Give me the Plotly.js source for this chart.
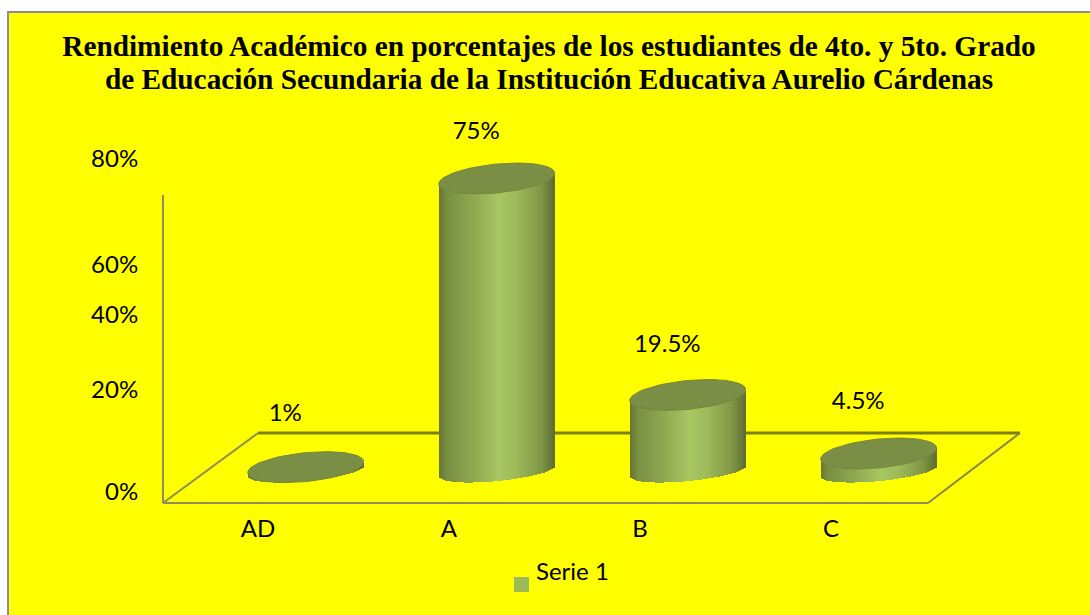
<!DOCTYPE html>
<html>
<head>
<meta charset="utf-8">
<script src="https://cdn.plot.ly/plotly-3.0.1.min.js"></script>
<style>
html,body{margin:0;padding:0;background:#fff;overflow:hidden}
#frame{position:absolute;left:7px;top:11px;border-left:2px solid #8e8e8e;border-top:2px solid #8e8e8e;width:1081px;height:602px}
#chart{width:1081px;height:602px}
</style>
</head>
<body>
<div id="frame"><div id="chart"></div></div>
<script>
// ---- data ----
const categories = ['AD', 'A', 'B', 'C'];
const seriesName = 'Serie 1';
const values = [1, 75, 19.5, 4.5];
const valueLabels = ['1%', '75%', '19.5%', '4.5%'];
const yTickLabels = ['0%', '20%', '40%', '60%', '80%'];
const yTickPositions = [-5.4, 21.0, 40.2, 52.8, 80.0];

// ---- geometry of the pseudo-3D cylinders, in axis units ----
const categoryPos = categories.map((_, i) => i);
const barShift = 0.25, barHalf = 0.3035;
const capHalfHeight = 3.7, baseHalfHeight = 2.6, capTilt = 1.4;
const labelShift = -0.107, labelLift = [13.3, 11.6, 12.5, 12.9];
const STRIPS = 58;

const shade = t => {           // t in [-1,1]; lit a little right of centre
  const stops = [[-1,[100,118,52]],[-0.85,[122,144,66]],[-0.4,[142,168,80]],[0.05,[168,198,98]],[0.35,[158,186,90]],[0.78,[128,150,70]],[1,[94,110,50]]];
  for (let i = 1; i < stops.length; i++) {
    if (t <= stops[i][0]) {
      const f = (t - stops[i-1][0]) / (stops[i][0] - stops[i-1][0]);
      const c = stops[i][1].map((v, k) => Math.round(stops[i-1][1][k] + (v - stops[i-1][1][k]) * f));
      return 'rgb(' + c.join(',') + ')';
    }
  }
  return 'rgb(94,110,50)';
};

const bx = [], bh = [], bb = [], bw = [], bc = [];
values.forEach((v, i) => {
  for (let s = 0; s < STRIPS; s++) {
    const t = -1 + (2 * s + 1) / STRIPS;
    const base = capTilt * t - baseHalfHeight * Math.sqrt(1 - t * t);
    const top = v + capTilt * t;
    bx.push(categoryPos[i] + barShift + t * barHalf);
    bb.push(base);
    bh.push(top - base);
    bw.push(2.4 * barHalf / STRIPS);
    bc.push(shade(t));
  }
});

const capX = [], capY = [];
values.forEach((v, i) => {
  for (let a = 0; a <= 72; a++) {
    const th = a / 72 * 2 * Math.PI;
    capX.push(categoryPos[i] + barShift + barHalf * Math.cos(th));
    capY.push(v + capTilt * Math.cos(th) + capHalfHeight * Math.sin(th));
  }
  capX.push(null); capY.push(null);
});

const font = 'Lato, "Open Sans", sans-serif';
const traces = [
  {type:'bar', x:bx, y:bh, base:bb, width:bw, marker:{color:bc, line:{width:0}}, showlegend:false, hoverinfo:'skip', cliponaxis:false},
  {type:'scatter', mode:'lines', x:capX, y:capY, fill:'toself', fillcolor:'#7a8f45', line:{color:'#77863a', width:1}, showlegend:false, hoverinfo:'skip', cliponaxis:false},
  {type:'scatter', mode:'text', x:categoryPos.map(c => c + barShift + labelShift), y:values.map((v, i) => v + labelLift[i]), text:valueLabels, textposition:'middle center', textfont:{family:font, size:24, color:'#000'}, showlegend:false, hoverinfo:'skip', cliponaxis:false},
  {type:'scatter', mode:'markers', name:seriesName, x:[null], y:[null], marker:{symbol:'square', size:15, color:'rgba(0,0,0,0)'}, showlegend:true, hoverinfo:'skip'}
];

// page pixel -> paper helpers for the floor frame
const L = 163, R = 1020, T = 110, B = 503;
const px = x => (x - L) / (R - L);
const py = y => (B - y) / (B - T);
const seg = (x0, y0, x1, y1, color, width) => ({type:'line', xref:'paper', yref:'paper', x0:px(x0), y0:py(y0), x1:px(x1), y1:py(y1), line:{color, width}, layer:'below'});

const layout = {
  width:1081, height:602,
  margin:{l:L-9, r:1090-R, t:T-13, b:615-B, pad:0},
  paper_bgcolor:'#ffff00', plot_bgcolor:'rgba(0,0,0,0)',
  barmode:'overlay', bargap:0,
  showlegend:true,
  title:{text:'Rendimiento Académico en porcentajes de los estudiantes de 4to. y 5to. Grado<br>de Educación Secundaria de la Institución Educativa Aurelio Cárdenas',
    font:{family:'"Liberation Serif", serif', size:29.3, color:'#000', weight:700}, x:(549-9)/1081, xanchor:'center', xref:'container', y:1-(56-13)/602, yanchor:'middle'},
  xaxis:{type:'linear', range:[-0.497, 3.99], tickvals:categoryPos, ticktext:categories, showgrid:false, zeroline:false,
    showline:false, ticks:'outside', ticklen:4, tickcolor:'rgba(0,0,0,0)', tickfont:{family:font, size:24, color:'#000'}, automargin:false, fixedrange:true},
  yaxis:{range:[-8.2, 92.56], tickvals:yTickPositions, ticktext:yTickLabels, showgrid:false, zeroline:false, showline:false,
    ticks:'outside', ticklen:19, tickcolor:'rgba(0,0,0,0)', tickfont:{family:font, size:24, color:'#000'}, automargin:false, fixedrange:true},
  legend:{orientation:'h', x:px(496), y:py(549), xanchor:'left', yanchor:'top', bgcolor:'rgba(0,0,0,0)', font:{family:font, size:24, color:'#000'}},
  shapes:[
    seg(163,195,163,503,'#8d8d6a',2),
    seg(163,503,928,503,'#8f8f55',2),
    seg(163,503,258,433,'#8d8d55',2),
    seg(258,433,1020,433,'#7f7f10',3),
    seg(1020,433,928,503,'#86864a',2),
    {type:'rect', xref:'paper', yref:'paper', x0:px(514), x1:px(529), y0:py(592), y1:py(577), fillcolor:'#9bbb59', line:{width:0}}
  ]
};
Plotly.newPlot('chart', traces, layout, {displayModeBar:false, responsive:false}).then(gd => {
  // tighten the title's line spacing to that of the reference
  gd.querySelectorAll('.gtitle tspan.line').forEach((t, i) => { if (i > 0) t.setAttribute('dy', '33px'); });
});
</script>
</body>
</html>
